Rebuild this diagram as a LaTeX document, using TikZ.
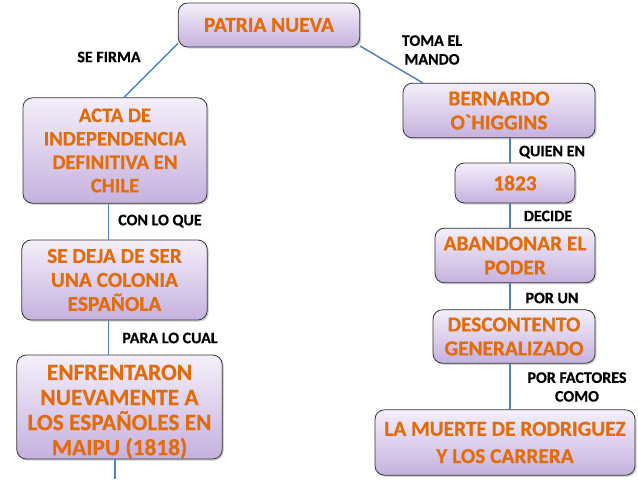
\documentclass[tikz,border=0pt]{standalone}
\usepackage{fontspec}
\setmainfont{Carlito}
\newfontfamily\calbold{Carlito}[UprightFont={* Bold}, FakeBold=0.6]
\usepackage{tikz}
\usetikzlibrary{shadows}
\definecolor{boxtop}{HTML}{F4EFFA}
\definecolor{boxbottom}{HTML}{C6B1DF}
\definecolor{boxtext}{HTML}{E36C0A}
\definecolor{linkblue}{HTML}{4F81BD}
\newcommand{\dropline}[1]{\raisebox{-3.5pt}[\height][\depth]{#1}}
\tikzstyle{concept} = [rectangle, rounded corners=7pt, inner sep=0pt, align=center,
           draw=black!80, line width=0.6pt, top color=boxtop, bottom color=boxbottom,
           text=boxtext, font=\calbold\fontsize{16}{18}\selectfont,
           drop shadow={shadow xshift=1.2pt, shadow yshift=-1.2pt, opacity=0.35}]
\tikzstyle{linkword} = [align=center, font=\calbold\fontsize{12}{14}\selectfont]
\tikzstyle{link} = [draw=linkblue, line width=1.1pt]

\begin{document}
\begin{tikzpicture}[x=0.75pt, y=-0.75pt]
\useasboundingbox (0,0) rectangle (638,479);
\coordinate (spine) at (510,0);
\coordinate (bottomend) at (115,479);
% left branch
\node (patria) [concept, minimum width=136pt, minimum height=33pt] at (269,25)
   {PATRIA NUEVA};
\node (acta) [concept, minimum width=138pt, minimum height=79pt,
      font=\calbold\fontsize{15.5}{17.6}\selectfont] at (115,150.5)
   {ACTA DE\\INDEPENDENCIA\\DEFINITIVA EN\\CHILE};
\node (colonia) [concept, minimum width=139pt, minimum height=60pt] at (114.5,280)
   {SE DEJA DE SER\\UNA COLONIA\\ESPA\~NOLA};
\node (maipu) [concept, minimum width=154pt, minimum height=78pt,
      font=\calbold\fontsize{17.5}{18.8}\selectfont] at (119.5,407)
   {\dropline{ENFRENTARON}\\\dropline{NUEVAMENTE A}\\
    \dropline{LOS ESPA\~NOLES EN}\\\dropline{MAIPU (1818)}};
% right branch
\node (ohiggins) [concept, minimum width=144pt, minimum height=41pt] at (499,110.5)
   {BERNARDO\\O\symbol{96}HIGGINS};
\node (year) [concept, minimum width=90pt, minimum height=30pt] at (515,183)
   {1823};
\node (poder) [concept, minimum width=120pt, minimum height=41pt] at (515,255.5)
   {ABANDONAR EL\\PODER};
\node (descontento) [concept, minimum width=121.5pt, minimum height=40pt] at (514,336.5)
   {DESCONTENTO\\GENERALIZADO};
\node (muerte) [concept, minimum width=195pt, minimum height=49pt,
      font=\calbold\fontsize{16}{20.5}\selectfont] at (505,442.5)
   {LA MUERTE DE RODRIGUEZ\\Y LOS CARRERA};
% linking words
\node (firma) [linkword] at (109,57) {SE FIRMA};
\node (mando) [linkword] at (432,50) {TOMA EL\\MANDO};
\node (conloque) [linkword] at (160,221) {CON LO QUE};
\node (paralocual) [linkword] at (170,338) {PARA LO CUAL};
\node (quienen) [linkword] at (552,152) {QUIEN EN};
\node (decide) [linkword] at (548,216) {DECIDE};
\node (porun) [linkword] at (552,298) {POR UN};
\node (factores) [linkword] at (577,387) {POR FACTORES\\COMO};
% connectors
\draw [link] ([yshift=3pt]patria.south west) -- ([xshift=6.75pt]acta.north);
\draw [link] ([yshift=1pt]patria.south east) -- ([xshift=15pt]ohiggins.north west);
\draw [link] ([xshift=-5pt]acta.south) -- ([xshift=-5pt]acta.south |- colonia.north);
\draw [link] ([xshift=-5pt]acta.south |- colonia.south) -- ([xshift=-5pt]acta.south |- maipu.north);
\draw [link] (maipu.south -| bottomend) -- (bottomend);
\draw [link] (ohiggins.south -| spine) -- (year.north -| spine);
\draw [link] (year.south -| spine) -- (poder.north -| spine);
\draw [link] (poder.south -| spine) -- (descontento.north -| spine);
\draw [link] (descontento.south -| spine) -- (muerte.north -| spine);
\end{tikzpicture}
\end{document}
